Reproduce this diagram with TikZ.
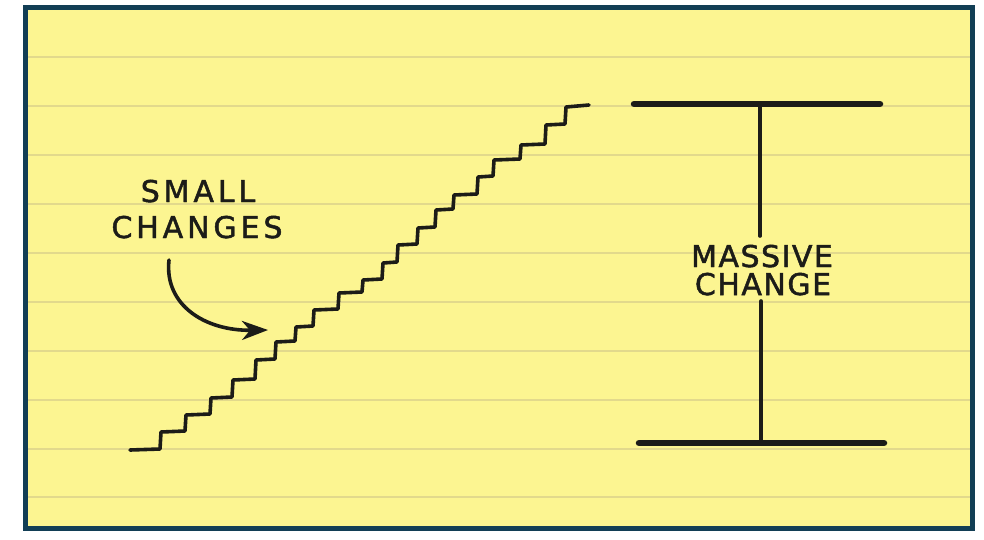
\documentclass[tikz,border=0pt]{standalone}
\usepackage{fontspec}
\setmainfont{DejaVu Sans}
\usetikzlibrary{arrows.meta}
\definecolor{paper}{RGB}{252,245,145}
\definecolor{rule}{RGB}{226,217,140}
\definecolor{frame}{RGB}{18,62,85}
\definecolor{ink}{RGB}{28,28,24}
\begin{document}
\begin{tikzpicture}[x=1pt,y=-1pt,
  inkline/.style={draw=ink,line width=3.6pt,line join=round,line cap=round},
  bar/.style={draw=ink,line width=6.5pt,line cap=round},
  ruled/.style={draw=rule,line width=1.4pt},
  leftlabel/.style={text=ink,inner sep=0pt,anchor=base,font=\fontsize{30}{30}\selectfont\addfontfeatures{LetterSpace=13,FakeBold=1.6}},
  rightlabel/.style={text=ink,inner sep=0pt,anchor=base,font=\fontsize{30}{30}\selectfont\addfontfeatures{LetterSpace=5,FakeBold=1.6}}]
\useasboundingbox (0,0) rectangle (984,539);
\fill[white] (0,0) rectangle (984,539);
\draw[frame,line width=5pt,fill=paper] (25.5,7.5) rectangle (972.5,528.5);
\foreach \yy in {57,106,155,204,253,302,351,400,449,497}
  \draw[ruled] (28,\yy) -- (970,\yy);

% staircase
\coordinate (s0) at (130,450);
\coordinate (s1) at (589,105);
\draw[inkline] (s0) -- (160,449) -- (161,432) -- (185,431) -- (186,415) -- (210,414) -- (211,398) -- (232,397) -- (233,380) -- (255,379) -- (256,360) -- (275,359) -- (276,342) -- (295,341) -- (296,327) -- (313,326) -- (314,310) -- (338,309) -- (339,293) -- (362,292) -- (363,280) -- (382,279) -- (383,263) -- (397,262) -- (398,245) -- (417,244) -- (418,228) -- (435,227) -- (436,210) -- (453,209) -- (454,195) -- (477,194) -- (478,177) -- (493,176) -- (494,160) -- (520,159) -- (521,145) -- (545,144) -- (546,125) -- (565,124) -- (566,107) -- (s1);

% labels
\node[leftlabel] (small) at (198,202) {SMALL};
\node[leftlabel] (changes) at (197,238) {CHANGES};
\node[rightlabel] (massive) at (762,267) {MASSIVE};
\node[rightlabel] (change) at (763,295) {CHANGE};

% arrow
\coordinate (a0) at (169,260);
\coordinate (a1) at (268,330);
\draw[inkline,-{Stealth[length=26pt,width=19pt,inset=8pt]}] (a0) .. controls (164,305) and (205,331) .. (a1);

% I-beam
\coordinate (tl) at (634,104);
\coordinate (tr) at (880,104);
\coordinate (bl) at (639,443);
\coordinate (br) at (884,443);
\coordinate (vt) at (760,104);
\coordinate (vm1) at (760,236);
\coordinate (vm2) at (761,301);
\coordinate (vb) at (761,443);
\draw[bar] (tl) -- (tr);
\draw[bar] (bl) -- (br);
\draw[inkline] (vt) -- (vm1);
\draw[inkline] (vm2) -- (vb);
\end{tikzpicture}
\end{document}
